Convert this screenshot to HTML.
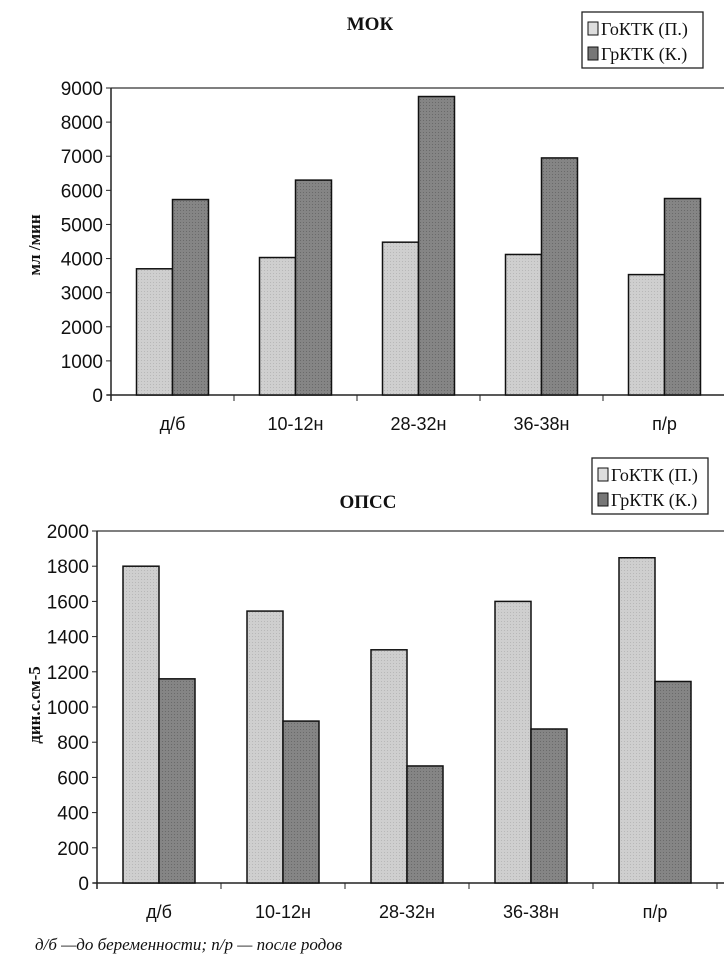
<!DOCTYPE html>
<html><head><meta charset="utf-8"><style>
body{margin:0;background:#fff;}
</style></head><body>
<svg id="c" width="724" height="969" viewBox="0 0 724 969" xmlns="http://www.w3.org/2000/svg" font-family="'Liberation Sans','DejaVu Sans',sans-serif" fill="#111">
<defs>
<pattern id="pl" width="3" height="3" patternUnits="userSpaceOnUse"><rect width="3" height="3" fill="#cfcfcf"/><rect width="1" height="1" fill="#b8b8b8"/></pattern>
<pattern id="pd" width="3" height="3" patternUnits="userSpaceOnUse"><rect width="3" height="3" fill="#858585"/><rect width="1" height="1" fill="#6a6a6a"/></pattern>
</defs>
</svg>
<script>
const categories=["д/б","10-12н","28-32н","36-38н","п/р"];
const seriesNames=["ГоКТК (П.)","ГрКТК (К.)"];
const mokLight=[3700,4030,4480,4120,3530];
const mokDark=[5730,6300,8750,6950,5760];
const mokTicks=[0,1000,2000,3000,4000,5000,6000,7000,8000,9000];
const opssLight=[1800,1545,1325,1600,1848];
const opssDark=[1160,920,665,875,1145];
const opssTicks=[0,200,400,600,800,1000,1200,1400,1600,1800,2000];
const svg=document.getElementById('c');
const NS="http://www.w3.org/2000/svg";
const SERIF="font-family:'Liberation Serif','DejaVu Serif',serif;";
function mk(t,a,p){const e=document.createElementNS(NS,t);for(const k in a)e.setAttribute(k,a[k]);(p||svg).appendChild(e);return e;}
function chart(cfg){
  const g=mk('g',{});
  
  
  const y=v=>cfg.y0-(v/cfg.max)*(cfg.y0-cfg.y1);
  const x=i=>cfg.x0+i*cfg.step;
  const t=mk('text',{x:cfg.tx,y:cfg.ty,'text-anchor':'middle',style:SERIF+'font-size:19px;font-weight:bold;'},g);
  t.textContent=cfg.title;
  
  
  mk('line',{x1:cfg.x0,y1:cfg.y1,x2:724,y2:cfg.y1,stroke:'#333','stroke-width':1.2},g);
  mk('line',{x1:cfg.x0,y1:cfg.y1,x2:cfg.x0,y2:cfg.y0+6,stroke:'#222','stroke-width':1.5},g);
  mk('line',{x1:cfg.x0-4,y1:cfg.y0,x2:724,y2:cfg.y0,stroke:'#222','stroke-width':1.5},g);
  cfg.ticks.forEach(v=>{
    mk('line',{x1:cfg.x0-5,y1:y(v),x2:cfg.x0,y2:y(v),stroke:'#222'},g);
    const l=mk('text',{x:cfg.x0-8,y:y(v)+7,'text-anchor':'end','font-size':19},g);
    l.textContent=v;
    
    
  });
  categories.forEach((c,i)=>{
    mk('line',{x1:x(i+1),y1:cfg.y0,x2:x(i+1),y2:cfg.y0+6,stroke:'#222'},g);
    const cx=x(i)+cfg.step/2;
    const l=mk('text',{x:cx,y:cfg.y0+35,'text-anchor':'middle','font-size':18},g);
    l.textContent=c;
    
    
    [[cfg.light,'url(#pl)',-36],[cfg.dark,'url(#pd)',0]].forEach(([arr,f,off],s)=>{
      const r=mk('rect',{x:cx+off,y:y(arr[i]),width:36,height:cfg.y0-y(arr[i]),fill:f,stroke:'#111','stroke-width':1.5},g);
      
      
    });
  });
  const yt=mk('text',{transform:`translate(${cfg.ax},${cfg.ay}) rotate(-90)`,'text-anchor':'middle',style:SERIF+'font-size:17px;font-weight:bold;'},g);
  yt.textContent=cfg.ytitle;
  
  
  const lg=mk('g',{},g);
  
  
  mk('rect',{x:cfg.lx,y:cfg.ly,width:cfg.lw,height:56,fill:'#fff',stroke:'#222','stroke-width':1.3},lg);
  seriesNames.forEach((n,s)=>{
    mk('rect',{x:cfg.lx+6,y:cfg.ly+10+s*25,width:10,height:13,fill:s?'#777':'#ddd',stroke:'#111'},lg);
    const lt=mk('text',{x:cfg.lx+19,y:cfg.ly+23+s*25,style:SERIF+'font-size:18px;'},lg);
    lt.textContent=n;
    
    
  });
}
chart({name:'mok-chart',title:'МОК',tx:370,ty:30,x0:111,step:123,y0:395,y1:88,max:9000,ticks:mokTicks,light:mokLight,dark:mokDark,ytitle:'мл /мин',ax:40,ay:245,lx:582,ly:12,lw:121});
chart({name:'opss-chart',title:'ОПСС',tx:368,ty:508,x0:97,step:124,y0:883,y1:531,max:2000,ticks:opssTicks,light:opssLight,dark:opssDark,ytitle:'дин.с.см-5',ax:40,ay:705,lx:592,ly:458,lw:116});
const fn=mk('text',{x:35,y:950,style:SERIF+'font-size:17px;font-style:italic;'});
fn.textContent='д/б —до беременности; п/р — после родов';


</script>
</body></html>
